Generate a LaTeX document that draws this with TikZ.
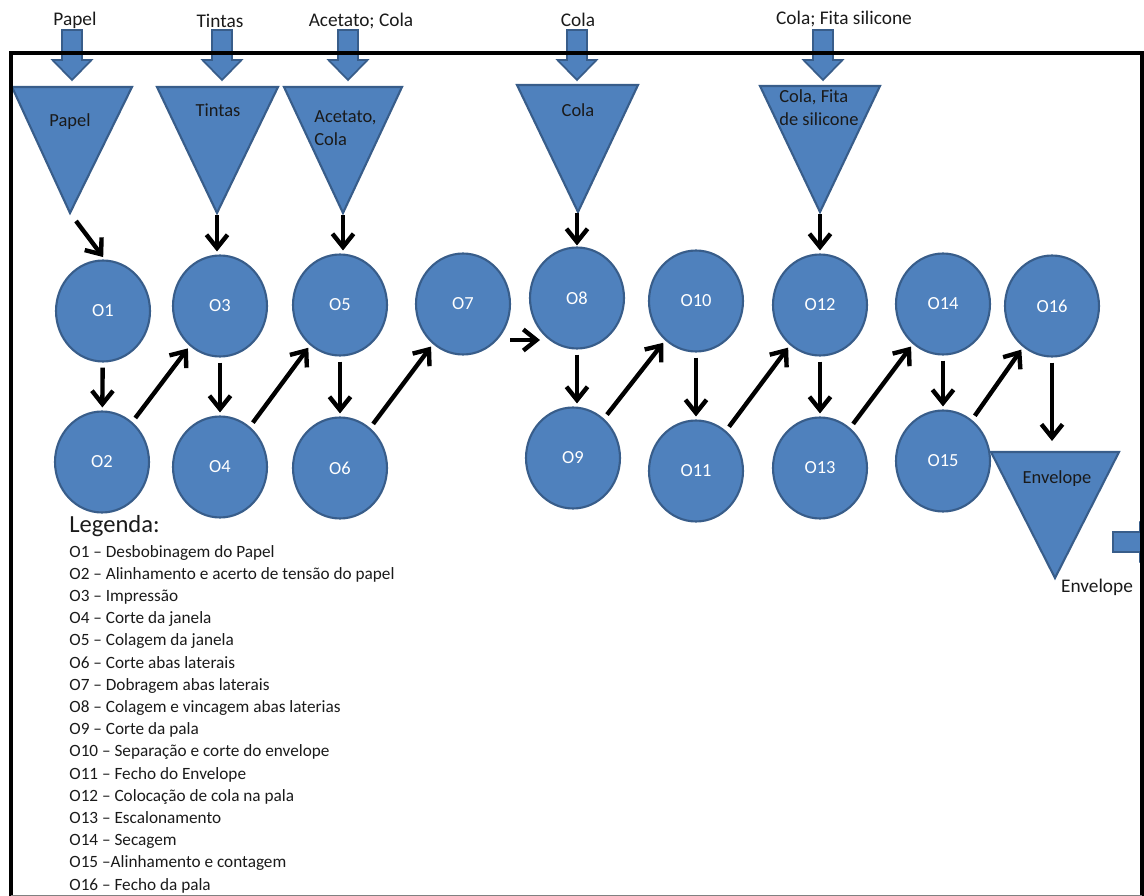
\documentclass[tikz,border=0pt]{standalone}
\usepackage{fontspec}
\setmainfont{Carlito}
\usetikzlibrary{shapes.geometric,arrows.meta,calc}
\definecolor{opfill}{HTML}{4F81BD}
\definecolor{opline}{HTML}{385D8A}
\definecolor{inktext}{HTML}{1A1A1A}
\begin{document}
\begin{tikzpicture}[x=0.02cm,y=-0.02cm,
  op/.style={ellipse, fill=opfill, draw=opline, line width=1.2pt,
    minimum width=1.88cm, minimum height=2.02cm, inner sep=0pt,
    text=white, font=\fontsize{10.5}{12}\selectfont},
  store/.style={fill=opfill, draw=opline, line width=1.2pt},
  supply/.style={fill=opfill, draw=opline, line width=1pt},
  storetext/.style={font=\fontsize{10.5}{13}\selectfont, text=inktext, align=left, inner sep=0pt},
  toplabel/.style={font=\fontsize{11}{13}\selectfont, text=inktext, inner sep=0pt},
  legitem/.style={anchor=base west, inner sep=0pt, text=inktext, font=\fontsize{9.8}{12}\selectfont},
  flow/.style={line width=2.5pt, -{Straight Barb[length=7.5pt,width=12pt]},
    shorten <=0.1cm, shorten >=0.06cm}]
\useasboundingbox (0,0) rectangle (1144,896);
\clip (0,0) rectangle (1144,896);

% supply block arrows at the top
\foreach \cx in {72,222,348,577,823}
  \draw[supply] (\cx-10,30) -- (\cx+10,30) -- (\cx+10,60) -- (\cx+19.5,60)
    -- (\cx,80) -- (\cx-19.5,60) -- (\cx-10,60) -- cycle;

% output block arrow on the right
\draw[supply] (1113,532) -- (1140,532) -- (1140,523) -- (1162,542)
  -- (1140,561) -- (1140,552) -- (1113,552) -- cycle;

% storage triangles
\draw[store] (12,87) -- (132,87) -- (70,213) -- cycle;
\draw[store] (157,87) -- (278,87) -- (217,213) -- cycle;
\draw[store] (284,87) -- (402,87) -- (343,213) -- cycle;
\draw[store] (517,85) -- (638,85) -- (578,212) -- cycle;
\draw[store] (760,86) -- (880,86) -- (820,212) -- cycle;
\draw[store] (991,452) -- (1119,452) -- (1055,578) -- cycle;
\coordinate (papelapex) at (70,213);
\coordinate (tintasapex) at (217,213);
\coordinate (acetatoapex) at (343,213);
\coordinate (colaapex) at (577,212);
\coordinate (fitaapex) at (820,212);
\coordinate (envtop) at (1055,452);

\node[storetext] (tPapel) at (70,122) {Papel};
\node[storetext] (tTintas) at (218,110) {Tintas};
\node[storetext, anchor=west] (tAcetato) at (314,128) {Acetato,\\Cola};
\node[storetext] (tCola) at (578,110) {Cola};
\node[storetext, anchor=west] (tFita) at (779,108) {Cola, Fita\\de silicone};
\node[storetext] (tEnv) at (1057,479) {Envelope};
\node[toplabel] (outEnv) at (1097,587) {Envelope};

% supply labels
\node[toplabel] (sPapel) at (75,20) {Papel};
\node[toplabel] (sTintas) at (220,21) {Tintas};
\node[toplabel] (sAcetato) at (361,21) {Acetato; Cola};
\node[toplabel] (sCola) at (578,20) {Cola};
\node[toplabel] (sFita) at (844,19) {Cola; Fita silicone};

% operations
\node[op] (O1) at (103,311) {O1};
\node[op] (O2) at (102,462) {O2};
\node[op] (O3) at (220,306) {O3};
\node[op] (O4) at (220,467) {O4};
\node[op] (O5) at (340,305) {O5};
\node[op] (O6) at (340,468) {O6};
\node[op] (O7) at (463,304) {O7};
\node[op] (O8) at (577,298) {O8};
\node[op] (O9) at (573,458) {O9};
\node[op] (O10) at (696,301) {O10};
\node[op] (O11) at (696,471) {O11};
\node[op] (O12) at (820,305) {O12};
\node[op] (O13) at (820,468) {O13};
\node[op] (O14) at (943,304) {O14};
\node[op] (O15) at (943,461) {O15};
\node[op] (O16) at (1052,306) {O16};

% flows
\draw[flow, shorten <=0.2cm] (papelapex) -- ([xshift=0.04cm]O1.north);
\draw[flow, shorten <=0.04cm] (tintasapex) -- (tintasapex |- O3.north);
\draw[flow, shorten <=0.04cm] (acetatoapex) -- (acetatoapex |- O5.north);
\draw[flow, shorten <=0.02cm, shorten >=0.02cm] (colaapex) -- (colaapex |- O8.north);
\draw[flow, shorten <=0.04cm] (fitaapex) -- (fitaapex |- O12.north);
\draw[flow] (O1) -- (O2);
\draw[flow] (O2) -- (O3);
\draw[flow] (O3) -- (O4);
\draw[flow] (O4) -- (O5);
\draw[flow] (O5) -- (O6);
\draw[flow] (O6) -- (O7);
\coordinate (o7out) at (510,340);
\coordinate (o8in) at (540,340);
\draw[flow, shorten <=0pt, shorten >=0pt] (o7out) -- (o8in);
\draw[flow] (O8) -- (O8 |- O9.north);
\draw[flow] (O9) -- (O10);
\draw[flow] (O10) -- (O11);
\draw[flow] (O11) -- (O12);
\draw[flow] (O12) -- (O13);
\draw[flow] (O13) -- (O14);
\draw[flow] (O14) -- (O15);
\draw[flow] (O15) -- (O16);
\draw[flow, shorten >=0.22cm] (O16) -- (O16 |- envtop);

% legend
\node[anchor=base west, inner sep=0pt, text=inktext, font=\fontsize{14}{16}\selectfont] (legtitle) at (69,532) {Legenda:};
\foreach \txt [count=\i from 0] in {%
  O1 – Desbobinagem do Papel,
  O2 – Alinhamento e acerto de tensão do papel,
  O3 – Impressão,
  O4 – Corte da janela,
  O5 – Colagem da janela,
  O6 – Corte abas laterais,
  O7 – Dobragem abas laterais,
  O8 – Colagem e vincagem abas laterias,
  O9 – Corte da pala,
  O10 – Separação e corte do envelope,
  O11 – Fecho do Envelope,
  O12 – Colocação de cola na pala,
  O13 – Escalonamento,
  O14 – Secagem,
  O15 –Alinhamento e contagem,
  O16 – Fecho da pala}
  \node[legitem] (leg\i) at (69,{557+22.2*\i}) {\txt};

% surrounding frame
\draw[line width=2pt] (11,897) -- (11,53) -- (1142,53) -- (1142,897);
\draw[gray, line width=0.8pt] (11,895.5) -- (1142,895.5);
\end{tikzpicture}
\end{document}
